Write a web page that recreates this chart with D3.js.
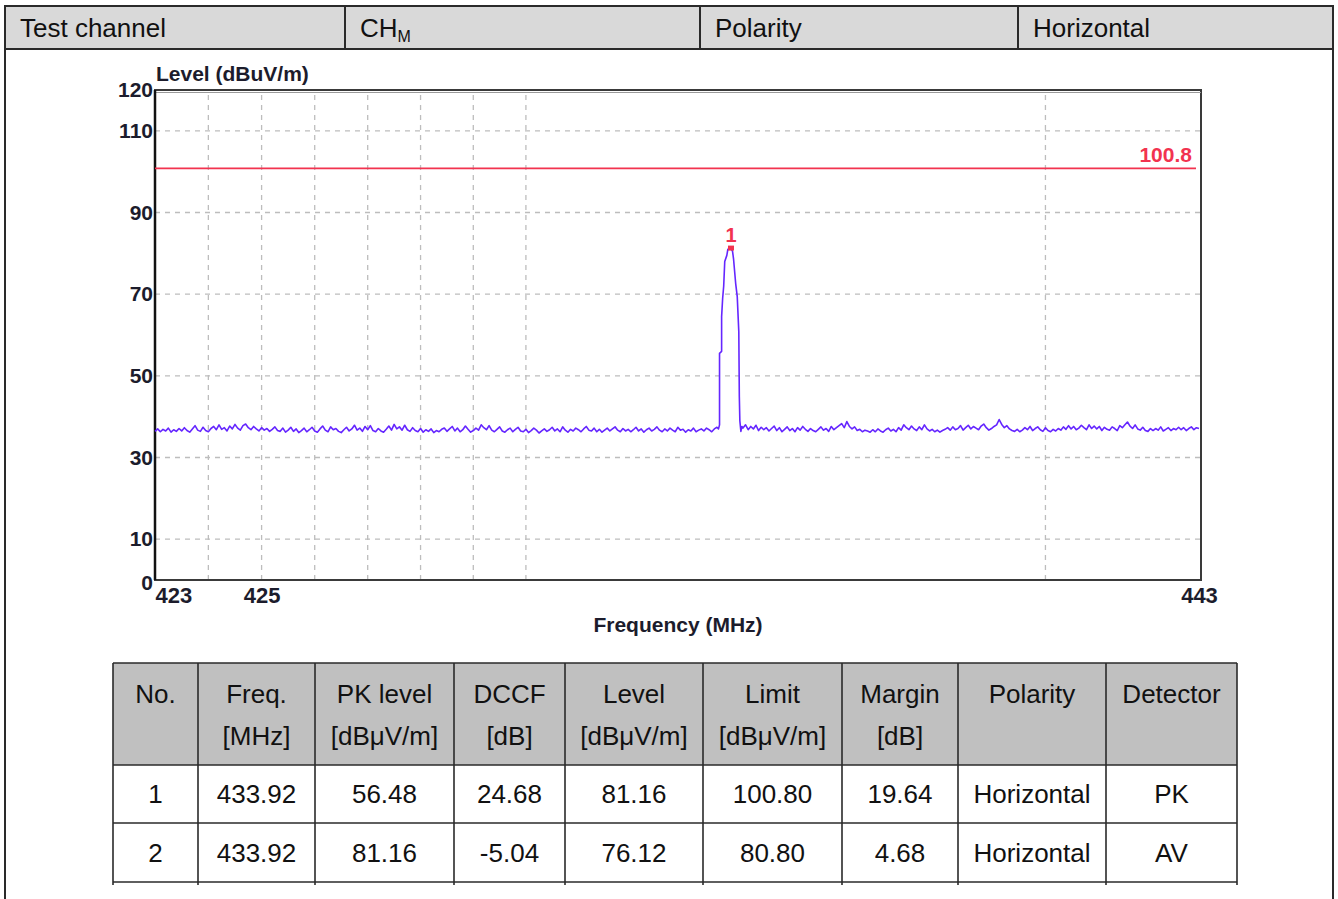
<!DOCTYPE html>
<html>
<head>
<meta charset="utf-8">
<script src="https://cdn.jsdelivr.net/npm/d3@7"></script>
<style>
  html, body { margin: 0; padding: 0; background: #fff; }
  svg { display: block; font-family: "Liberation Sans", Arial, sans-serif; }
  .axis-lbl { font-weight: bold; fill: #1c1c2c; }
</style>
</head>
<body>
<svg id="chart" width="1338" height="899"></svg>
<script>
// --- header row ---
const headerCells = ["Test channel", "CH", "Polarity", "Horizontal"];
const headerCols = [5, 345, 700, 1018, 1333];

// --- plot axes ---
const yTicks = [0, 10, 30, 50, 70, 90, 110, 120];
const yGrid = [10, 30, 50, 70, 90, 110];
const xTicks = [423, 425, 443];
const xGrid = [424, 425, 426, 427, 428, 429, 430, 440];
const limitLevel = 100.8;

// noise floor, 423.00 .. 433.65 MHz, 0.05 MHz sweep step
const noiseLow = [
  36.4, 37.0, 36.3, 36.9, 36.5, 37.2, 36.2, 36.8, 36.4, 37.1,
  36.5, 37.3, 36.6, 36.2, 37.0, 37.8, 36.7, 36.4, 37.4, 36.6,
  36.3, 37.1, 37.6, 36.8, 38.0, 36.9, 37.3, 36.5, 37.7, 37.0,
  38.1, 37.2, 36.7, 37.8, 38.2, 37.3, 36.8, 37.6, 37.0, 36.5,
  37.3, 36.7, 37.1, 36.4, 36.9, 37.5, 36.6, 36.4, 37.2, 36.2,
  36.7, 37.4, 36.4, 37.0, 36.1, 36.6, 37.2, 36.3, 36.8, 37.4,
  36.5, 36.2, 37.0, 37.7, 36.7, 36.3, 37.5, 36.8, 37.1, 36.4,
  36.1, 36.8, 37.4, 36.5, 37.0, 37.9, 36.7, 37.2, 36.4, 37.6,
  36.8, 37.8, 36.6, 36.3, 37.1, 36.5, 36.2, 36.9, 37.7, 36.7,
  38.1, 37.0, 37.5, 36.7, 37.9, 36.8, 36.4, 37.3, 36.6, 36.3,
  37.1, 36.2, 36.8, 36.4, 37.0, 36.1, 36.6, 36.3, 36.9, 37.2,
  36.4, 37.0, 37.6, 36.5, 37.2, 36.3, 36.8, 37.7, 36.9, 36.2,
  36.6, 37.2, 36.7, 38.0, 37.3, 36.8, 37.8, 36.7, 36.3, 36.9,
  37.5, 36.5, 36.2, 36.8, 37.2, 36.3, 36.9, 37.4, 36.5, 36.3,
  36.9, 36.1, 36.6, 37.2, 36.7, 36.0, 36.5, 37.0, 36.4, 36.8,
  37.4, 36.5, 37.0, 36.3, 37.5, 36.7, 36.2, 36.9, 36.5, 37.2,
  36.8, 36.3, 37.0, 37.6, 36.7, 36.5, 37.2, 36.3, 36.9, 36.2,
  36.7, 37.2, 36.5, 37.0, 37.5, 36.7, 36.3, 37.1, 36.5, 36.9,
  36.3, 36.8, 37.4, 36.5, 37.0, 36.2, 36.8, 37.2, 36.5, 36.9,
  37.5, 36.7, 36.3, 37.0, 36.5, 37.2, 36.7, 36.3, 37.4, 36.7,
  36.9, 36.2, 36.8, 36.5, 37.2, 36.3, 36.7, 37.0, 36.5, 37.2,
  36.8, 36.3, 37.0, 37.4
];

// the carrier at 433.92 MHz
const peakFreq = [433.68, 433.70, 433.70, 433.74, 433.74, 433.76, 433.78, 433.80, 433.84, 433.86,
                  433.92, 433.95, 433.97, 434.01, 434.04, 434.07, 434.08, 434.09, 434.11, 434.13];
const peakLevel = [37.0, 38.0, 55.5, 56.0, 64.5, 69.0, 72.0, 78.0, 79.5, 81.0,
                   81.16, 80.5, 78.5, 72.6, 69.4, 60.8, 45.0, 39.0, 36.4, 37.6];

// noise floor, 434.15 .. 443.00 MHz
const noiseHigh = [
  37.2, 38.0, 36.8, 37.6, 37.0, 37.9, 36.6, 37.4, 36.8, 37.3,
  36.5, 37.1, 37.7, 36.6, 37.3, 36.3, 36.9, 37.5, 36.6, 37.1,
  36.3, 37.3, 36.7, 37.6, 36.9, 36.4, 37.1, 36.6, 36.3, 36.9,
  37.5, 36.7, 37.1, 36.4, 37.6, 36.8, 37.3, 37.8, 38.3, 37.3,
  38.8, 37.6, 37.0, 37.5, 36.6, 36.9, 36.3, 36.7, 36.5, 36.2,
  36.8, 36.3, 37.0, 36.5, 36.2, 36.8, 37.2, 36.5, 36.9, 36.3,
  37.3, 36.7, 38.0, 37.3, 36.8, 37.7, 37.0, 36.6, 37.5, 36.8,
  38.0, 37.0, 36.5, 36.9, 36.3, 36.7, 36.2, 36.6, 36.9, 37.3,
  36.7, 37.5, 36.8, 37.1, 37.8, 36.7, 37.3, 37.9, 37.0, 37.6,
  37.2, 36.8, 37.7, 38.2, 37.3, 36.7, 37.1, 37.6, 38.0, 39.3,
  38.1, 37.3, 37.8, 37.0, 36.6, 36.4, 36.9, 36.3, 36.7, 37.3,
  36.8, 37.6, 36.6, 37.1, 37.5, 36.8, 36.4, 37.3, 36.6, 36.3,
  36.9, 36.5, 37.1, 36.7, 37.5, 36.9, 37.8, 37.0, 37.6, 36.8,
  37.2, 37.9, 37.3, 36.8, 38.0, 37.1, 37.7, 37.0, 37.6, 36.6,
  37.4, 36.9, 36.7, 37.5, 37.1, 36.6, 37.8, 37.3, 38.0, 38.7,
  37.7, 37.1, 38.0, 37.0, 36.7, 37.4, 36.6, 36.4, 37.1, 36.6,
  37.1, 36.7, 37.5, 36.5, 36.9, 37.3, 36.6, 37.1, 36.8, 37.4,
  36.8, 37.3, 36.6, 37.1, 37.5, 36.8, 37.3, 37.1
];

// --- result table ---
const tableHead = [["No.", ""], ["Freq.", "[MHz]"], ["PK level", "[dBμV/m]"], ["DCCF", "[dB]"],
                   ["Level", "[dBμV/m]"], ["Limit", "[dBμV/m]"], ["Margin", "[dB]"], ["Polarity", ""], ["Detector", ""]];
const tableRows = [
  ["1", "433.92", "56.48", "24.68", "81.16", "100.80", "19.64", "Horizontal", "PK"],
  ["2", "433.92", "81.16", "-5.04", "76.12", "80.80", "4.68", "Horizontal", "AV"]
];
const tableCols = [113, 198, 315, 454, 565, 703, 842, 958, 1106, 1237];
const tableLines = [663, 765, 823, 882];

const svg = d3.select("#chart");
const ink = "#2a2a2a";

// ---------- header ----------
svg.append("rect").attr("x", 5).attr("y", 6).attr("width", 1328).attr("height", 43)
  .attr("fill", "#d9d9d9");
svg.append("g").selectAll("line").data(headerCols).join("line")
  .attr("x1", d => d).attr("x2", d => d).attr("y1", 5).attr("y2", 49)
  .attr("stroke", ink).attr("stroke-width", 2);
svg.append("line").attr("x1", 5).attr("x2", 1333).attr("y1", 6).attr("y2", 6)
  .attr("stroke", ink).attr("stroke-width", 2);
svg.append("line").attr("x1", 5).attr("x2", 1333).attr("y1", 49).attr("y2", 49)
  .attr("stroke", ink).attr("stroke-width", 2);
// outer box sides
[5, 1333].forEach(xx => svg.append("line").attr("x1", xx).attr("x2", xx).attr("y1", 49).attr("y2", 899)
  .attr("stroke", ink).attr("stroke-width", 2));

const ht = svg.append("g").selectAll("text").data(headerCells).join("text")
  .attr("x", (d, i) => headerCols[i] + 15).attr("y", 37)
  .attr("font-size", 26).attr("fill", "#111")
  .text(d => d);
ht.filter((d, i) => i === 1).append("tspan")
  .attr("font-size", 16).attr("dy", 5).text("M");

// ---------- plot ----------
const x = d3.scaleLog().domain([423, 443]).range([155, 1199]);
const y = d3.scaleLinear().domain([0, 120]).range([580, 90]);

const grid = svg.append("g").attr("stroke", "#bdbdbd").attr("stroke-width", 1.3)
  .attr("stroke-dasharray", "5,5");
grid.selectAll("line.h").data(yGrid).join("line").attr("class", "h")
  .attr("x1", 155).attr("x2", 1201)
  .attr("y1", d => y(d)).attr("y2", d => y(d));
grid.selectAll("line.v").data(xGrid).join("line").attr("class", "v")
  .attr("x1", d => x(d)).attr("x2", d => x(d))
  .attr("y1", y(120) + 5).attr("y2", y(0));

// frame
svg.append("rect").attr("x", 155).attr("y", 90).attr("width", 1046).attr("height", 490)
  .attr("fill", "none").attr("stroke", "#3a3a3a").attr("stroke-width", 2);
svg.append("line").attr("x1", 155).attr("x2", 1201).attr("y1", 92.5).attr("y2", 92.5)
  .attr("stroke", "#9a9a9a").attr("stroke-width", 1);
svg.append("line").attr("x1", 155).attr("x2", 155).attr("y1", 90).attr("y2", 580)
  .attr("stroke", "#111").attr("stroke-width", 2.5);

// limit line
svg.append("line").attr("x1", 155).attr("x2", 1196)
  .attr("y1", y(limitLevel)).attr("y2", y(limitLevel))
  .attr("stroke", "#f2334f").attr("stroke-width", 1.6);
svg.append("text").attr("x", 1192).attr("y", y(limitLevel) - 6)
  .attr("text-anchor", "end").attr("font-weight", "bold").attr("font-size", 21)
  .attr("fill", "#f2334f").text(limitLevel);

// trace
const trace = noiseLow.map((v, i) => [423 + i * 0.05, v])
  .concat(peakFreq.map((f, i) => [f, peakLevel[i]]))
  .concat(noiseHigh.map((v, i) => [434.15 + i * 0.05, v]));
svg.append("path").datum(trace)
  .attr("fill", "none").attr("stroke", "#6526ff").attr("stroke-width", 1.6)
  .attr("stroke-linejoin", "round")
  .attr("d", d3.line().x(d => x(d[0])).y(d => y(d[1])));

// marker 1
const mk = tableRows[0];
const mFreq = +mk[1], mLevel = +mk[4];
svg.append("rect").attr("x", x(mFreq) - 3).attr("y", y(mLevel) - 3)
  .attr("width", 6).attr("height", 5).attr("fill", "#f2334f");
svg.append("text").attr("x", x(mFreq)).attr("y", y(mLevel) - 7)
  .attr("text-anchor", "middle").attr("font-weight", "bold").attr("font-size", 20)
  .attr("fill", "#f2334f").text(mk[0]);

// y axis labels
const yAxis = svg.append("g").attr("transform", "translate(153,0)")
  .call(d3.axisLeft(y).tickValues(yTicks).tickSize(0).tickPadding(0).tickFormat(d3.format("d")));
yAxis.select(".domain").remove();
yAxis.selectAll("text").attr("class", "axis-lbl").attr("font-size", 21)
  .attr("font-family", "Liberation Sans, Arial, sans-serif")
  .attr("dy", (d) => d === 0 ? "0.45em" : "0.32em");

// x axis labels
const xAxis = svg.append("g").attr("transform", "translate(0,587)")
  .call(d3.axisBottom(x).tickValues(xTicks).tickSize(0).tickPadding(0).tickFormat(d3.format("d")));
xAxis.select(".domain").remove();
xAxis.selectAll("text").attr("class", "axis-lbl").attr("font-size", 22)
  .attr("font-family", "Liberation Sans, Arial, sans-serif")
  .attr("text-anchor", d => d === 423 ? "start" : "middle");

svg.append("text").attr("class", "axis-lbl").attr("x", 156).attr("y", 81)
  .attr("font-size", 21).text("Level (dBuV/m)");
svg.append("text").attr("class", "axis-lbl").attr("x", 678).attr("y", 632)
  .attr("text-anchor", "middle").attr("font-size", 21).text("Frequency (MHz)");

// ---------- result table ----------
svg.append("rect").attr("x", tableCols[0]).attr("y", tableLines[0])
  .attr("width", tableCols[9] - tableCols[0]).attr("height", tableLines[1] - tableLines[0])
  .attr("fill", "#c0c0c0");
const tl = svg.append("g").attr("stroke", ink).attr("stroke-width", 1.6);
tl.selectAll("line.r").data(tableLines).join("line").attr("class", "r")
  .attr("x1", tableCols[0]).attr("x2", tableCols[9]).attr("y1", d => d).attr("y2", d => d);
tl.selectAll("line.c").data(tableCols).join("line").attr("class", "c")
  .attr("x1", d => d).attr("x2", d => d).attr("y1", tableLines[0]).attr("y2", tableLines[3] + 3);

const mid = i => (tableCols[i] + tableCols[i + 1]) / 2;
const th = svg.append("g").attr("font-size", 26).attr("fill", "#111").attr("text-anchor", "middle");
tableHead.forEach((lines, i) => {
  th.append("text").attr("x", mid(i)).attr("y", 703).text(lines[0]);
  th.append("text").attr("x", mid(i)).attr("y", 745).text(lines[1]);
});
tableRows.forEach((row, r) => {
  const cy = (tableLines[r + 1] + tableLines[r + 2]) / 2 + 9;
  th.selectAll(null).data(row).join("text")
    .attr("x", (d, i) => mid(i)).attr("y", cy).text(d => d);
});
</script>
</body>
</html>
